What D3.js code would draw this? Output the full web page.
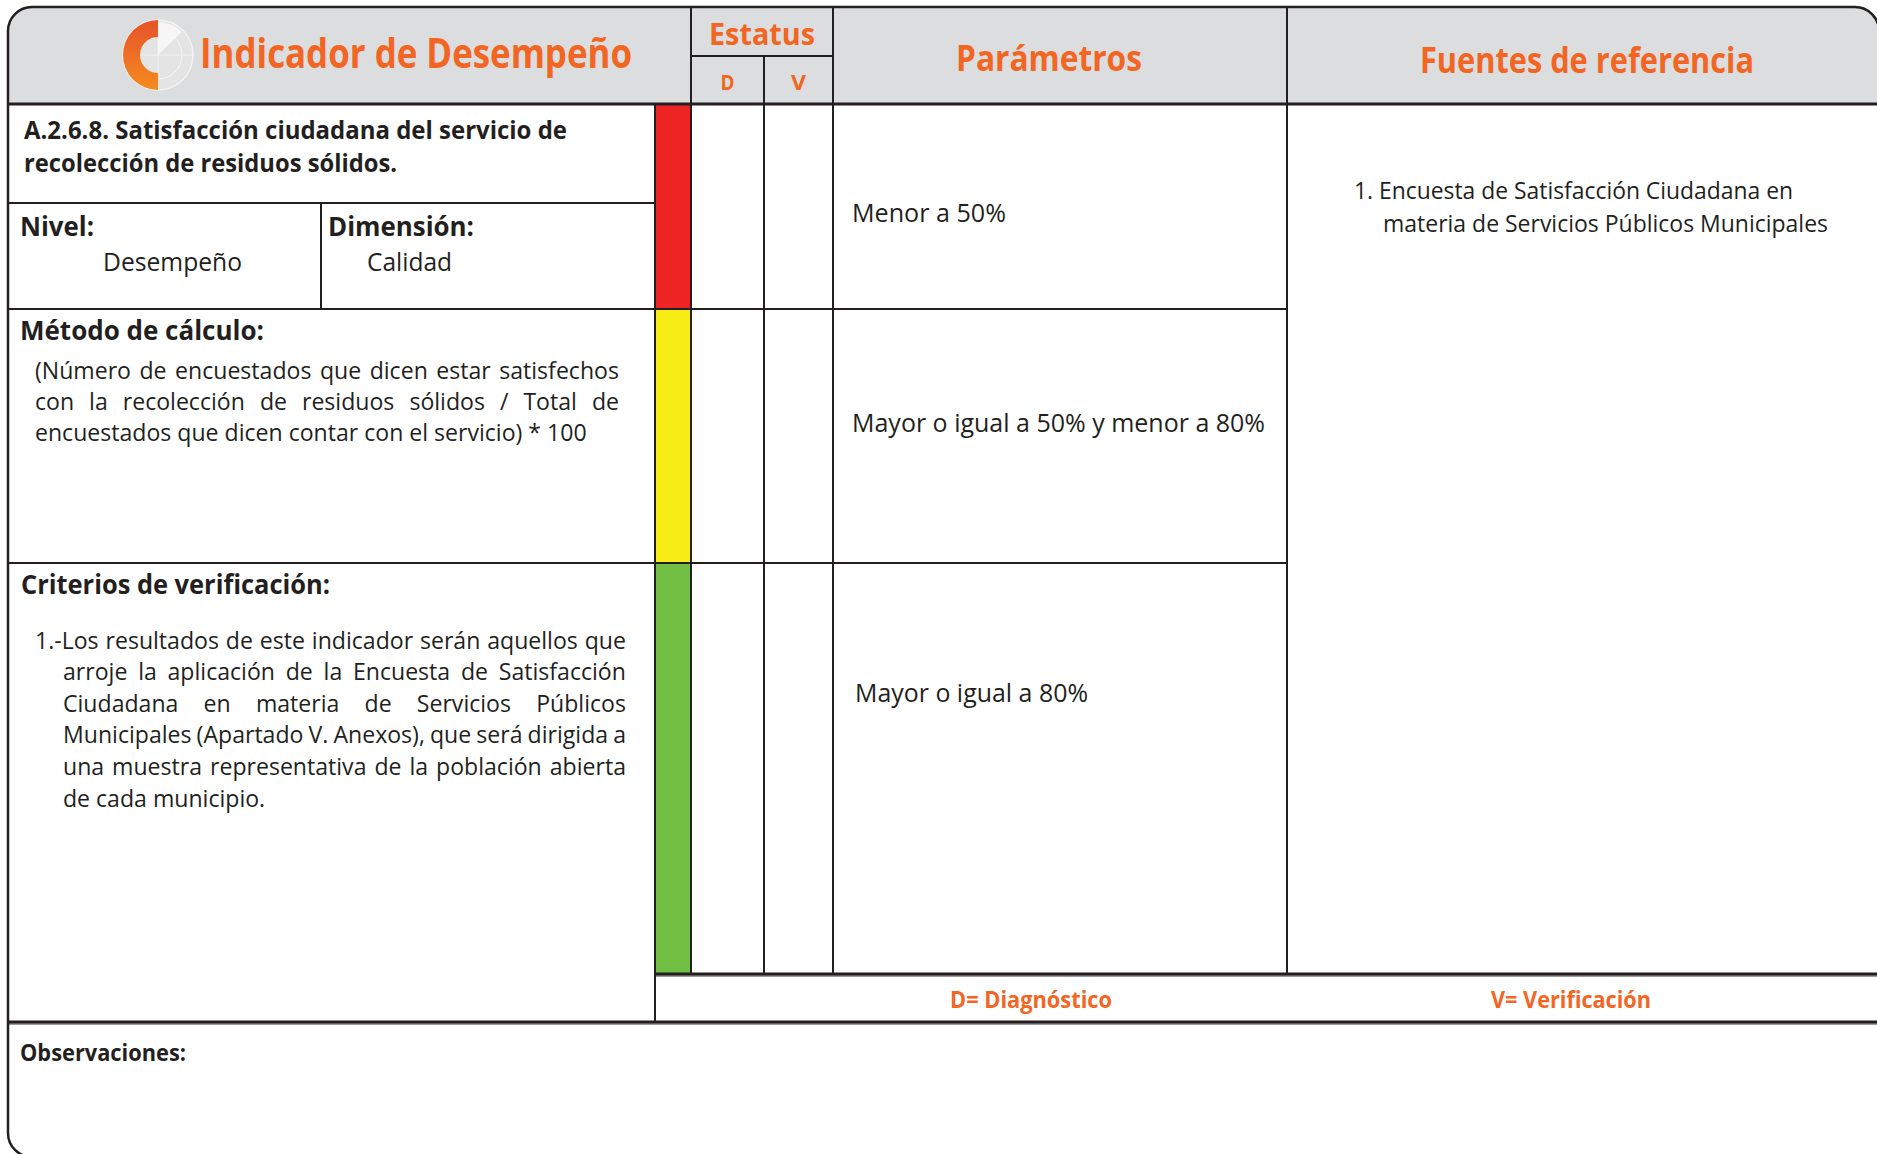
<!DOCTYPE html>
<html><head><meta charset="utf-8">
<script src="https://cdn.jsdelivr.net/npm/d3@7"></script>
<style>html,body{margin:0;padding:0;background:#fff;overflow:hidden;} svg{display:block;}</style>
</head><body><div id="chart"></div>
<script>
// ---------------- DATA ----------------
const headerLabels = ["Indicador de Desempeño", "Estatus", "D", "V", "Parámetros", "Fuentes de referencia"];
const indicatorTitle = ["A.2.6.8. Satisfacción ciudadana del servicio de", "recolección de residuos sólidos."];
const fieldLabels = ["Nivel:", "Dimensión:", "Método de cálculo:", "Criterios de verificación:", "Observaciones:"];
const fieldValues = ["Desempeño", "Calidad"];
const metodoLines = [
  "(Número de encuestados que dicen estar satisfechos",
  "con la recolección de residuos sólidos / Total de",
  "encuestados que dicen contar con el servicio) * 100"
];
const criteriosLines = [
  "1.-Los resultados de este indicador serán aquellos que",
  "arroje la aplicación de la Encuesta de Satisfacción",
  "Ciudadana en materia de Servicios Públicos",
  "Municipales (Apartado V. Anexos), que será dirigida a",
  "una muestra representativa de la población abierta",
  "de cada municipio."
];
const levels = ["rojo", "amarillo", "verde"];
const levelColors = ["#EE2424", "#F7EC14", "#72BF44"];
const parameters = ["Menor a 50%", "Mayor o igual a 50% y menor a 80%", "Mayor o igual a 80%"];
const fuentesLines = ["1. Encuesta de Satisfacción Ciudadana en", "materia de Servicios Públicos Municipales"];
const legendLabels = ["D= Diagnóstico", "V= Verificación"];

// ---------------- LAYOUT ----------------
const W = 1877, H = 1154;
const INK = "#231f20", ORANGE = "#F26522", GREY = "#DCDDDE";
const FONT = "'Open Sans', 'Noto Sans', sans-serif";
const L = 8, T = 7, R = 1879, B = 1157, RAD = 24;
const xStripL = 655, xStripR = 691, xDV = 764, xEstR = 833, xParR = 1287;
const yHead = 104, yEstSplit = 56, yTitle = 203, yLegTop = 974, yLegBot = 1022;
const rowY = d3.scaleOrdinal(levels, [[104, 309], [309, 563], [563, 974]]);
const color = d3.scaleOrdinal(levels, levelColors);

const svg = d3.select("#chart").append("svg").attr("width", W).attr("height", H);
const defs = svg.append("defs");
const outerPath = `M${L},${T + RAD} A${RAD},${RAD} 0 0 1 ${L + RAD},${T} L${R - RAD},${T} A${RAD},${RAD} 0 0 1 ${R},${T + RAD} L${R + 20},${T + RAD} L${R + 20},${B} L${L + RAD},${B} A${RAD},${RAD} 0 0 1 ${L},${B - RAD} Z`;
const borderPath = `M${R},${T + RAD} A${RAD},${RAD} 0 0 0 ${R - RAD},${T} L${L + RAD},${T} A${RAD},${RAD} 0 0 0 ${L},${T + RAD} L${L},${B - RAD} A${RAD},${RAD} 0 0 0 ${L + RAD},${B}`;
defs.append("clipPath").attr("id", "outer").append("path").attr("d", outerPath);
const grad = defs.append("linearGradient").attr("id", "logoGrad").attr("x1", 0).attr("y1", 0).attr("x2", 0).attr("y2", 1);
grad.append("stop").attr("offset", "0%").attr("stop-color", "#E6532A");
grad.append("stop").attr("offset", "100%").attr("stop-color", "#F68B1F");

// background & header
svg.append("path").attr("d", outerPath).attr("fill", "#fff");
svg.append("rect").attr("x", 0).attr("y", 0).attr("width", W + 10).attr("height", yHead)
  .attr("fill", GREY).attr("clip-path", "url(#outer)");

// colour strip
svg.selectAll("rect.level").data(levels).join("rect").attr("class", "level")
  .attr("x", xStripL).attr("width", xStripR - xStripL)
  .attr("y", d => rowY(d)[0]).attr("height", d => rowY(d)[1] - rowY(d)[0])
  .attr("fill", d => color(d));

// grid lines
function hline(y, x1, x2, w = 2, c = INK) {
  svg.append("line").attr("x1", x1).attr("x2", x2).attr("y1", y).attr("y2", y)
    .attr("stroke", c).attr("stroke-width", w);
}
function vline(x, y1, y2, w = 2) {
  svg.append("line").attr("x1", x).attr("x2", x).attr("y1", y1).attr("y2", y2)
    .attr("stroke", INK).attr("stroke-width", w);
}
hline(yLegTop + 2, xStripL, W, 2, "#9a9a9a");
hline(yLegBot + 2, L, W, 2, "#9a9a9a");
hline(yHead, L, W, 3);
hline(yEstSplit, xStripR, xEstR);
hline(yTitle, L, xStripL);
levels.slice(0, 2).forEach(l => hline(rowY(l)[1], L, xParR));
hline(yLegTop, xStripL, W, 3);
hline(yLegBot, L, W, 3);
vline(321, yTitle, rowY("rojo")[1]);
vline(xStripL, yHead, yLegBot);
vline(xStripR, T, yLegTop);
vline(xDV, yEstSplit, yLegTop);
vline(xEstR, T, yLegTop);
vline(xParR, T, yLegTop);
svg.append("path").attr("d", borderPath).attr("fill", "none").attr("stroke", INK).attr("stroke-width", 2.5);

// ---------------- TEXT HELPERS ----------------
function txt(str, x, y, o) {
  const t = svg.append("text").text(str)
    .attr("y", y).attr("font-family", FONT).attr("font-size", o.size)
    .attr("font-weight", o.weight || 400).attr("fill", o.fill || INK);
  let xs = x;
  if (o.w) {
    t.attr("textLength", o.w).attr("lengthAdjust", "spacingAndGlyphs");
    if (o.anchor === "middle") xs = x - o.w / 2;
  } else if (o.anchor) t.attr("text-anchor", o.anchor);
  t.attr("x", xs);
  return t;
}
function naturalWidth(str, size, weight) {
  const t = svg.append("text").text(str).attr("font-family", FONT).attr("font-size", size).attr("font-weight", weight || 400);
  const w = t.node().getComputedTextLength();
  t.remove();
  return w;
}
function justify(str, x, y, w, size, k) {
  const words = str.split(" ");
  const g = svg.append("g");
  const nodes = words.map(wd => g.append("text").text(wd).attr("font-family", FONT)
    .attr("font-size", size).attr("fill", INK));
  const widths = nodes.map(n => n.node().getComputedTextLength() * k);
  const total = d3.sum(widths);
  const gap = words.length > 1 ? (w - total) / (words.length - 1) : 0;
  let cx = x;
  nodes.forEach((n, i) => { n.attr("transform", `translate(${cx},${y}) scale(${k},1)`); cx += widths[i] + gap; });
}
function plain(str, x, y, size, k) {
  svg.append("text").text(str).attr("font-family", FONT).attr("font-size", size).attr("fill", INK)
    .attr("transform", `translate(${x},${y}) scale(${k},1)`);
}

// ---------------- LOGO ----------------
const logo = svg.append("g").attr("transform", "translate(158,55)");
logo.append("circle").attr("r", 35).attr("fill", "#e4e4e5").attr("stroke", "#f2f2f2").attr("stroke-width", 1.5);
logo.append("circle").attr("r", 24).attr("fill", "none").attr("stroke", "#f6f6f6").attr("stroke-width", 1);
logo.append("line").attr("x1", -35).attr("x2", 35).attr("stroke", "#f1f1f1").attr("stroke-width", 1);
logo.append("line").attr("y1", -35).attr("y2", 35).attr("stroke", "#f1f1f1").attr("stroke-width", 1);
logo.append("path").attr("d", d3.arc()({ innerRadius: 0, outerRadius: 33, startAngle: 0, endAngle: 0.8 }))
  .attr("fill", "#f7f7f7").attr("opacity", 0.95);
logo.append("path").attr("d", d3.arc()({ innerRadius: 18, outerRadius: 35, startAngle: Math.PI, endAngle: 2 * Math.PI }))
  .attr("fill", "url(#logoGrad)");

// ---------------- HEADER TEXT ----------------
txt(headerLabels[0], 200, 68, { size: 42, weight: 700, fill: ORANGE, w: 432 });
txt(headerLabels[1], 762, 45, { size: 31, weight: 700, fill: ORANGE, w: 106, anchor: "middle" });
txt(headerLabels[2], 727.5, 90, { size: 22, weight: 700, fill: ORANGE, w: 14, anchor: "middle" });
txt(headerLabels[3], 798.5, 90, { size: 22, weight: 700, fill: ORANGE, w: 15, anchor: "middle" });
txt(headerLabels[4], 1049, 71, { size: 36, weight: 700, fill: ORANGE, w: 186, anchor: "middle" });
txt(headerLabels[5], 1587, 73, { size: 36, weight: 700, fill: ORANGE, w: 334, anchor: "middle" });

// ---------------- LEFT COLUMN ----------------
txt(indicatorTitle[0], 24, 139, { size: 25, weight: 700, w: 543 });
txt(indicatorTitle[1], 24, 172, { size: 25, weight: 700, w: 373 });
txt(fieldLabels[0], 20, 236, { size: 26, weight: 700, w: 74 });
txt(fieldLabels[1], 328, 236, { size: 26, weight: 700, w: 146 });
txt(fieldValues[0], 103, 271, { size: 25, w: 139 });
txt(fieldValues[1], 367, 271, { size: 25, w: 85 });
txt(fieldLabels[2], 20, 340, { size: 26, weight: 700, w: 244 });

const BODY = 23;
const kBody = 552 / naturalWidth(metodoLines[2], BODY);
const metodoY = [379, 410, 441];
justify(metodoLines[0], 35, metodoY[0], 584, BODY, kBody);
justify(metodoLines[1], 35, metodoY[1], 584, BODY, kBody);
plain(metodoLines[2], 35, metodoY[2], BODY, kBody);

txt(fieldLabels[3], 21, 594, { size: 26, weight: 700, w: 309 });
const critY = [649, 680, 712, 743, 775, 807];
justify(criteriosLines[0], 35, critY[0], 591, BODY, kBody);
for (let i = 1; i < 5; i++) justify(criteriosLines[i], 63, critY[i], 563, BODY, kBody);
plain(criteriosLines[5], 63, critY[5], BODY, kBody);

// ---------------- PARAMETERS ----------------
const paramLayout = [{ x: 852, y: 222, w: 154 }, { x: 852, y: 432, w: 413 }, { x: 855, y: 702, w: 233 }];
parameters.forEach((p, i) => txt(p, paramLayout[i].x, paramLayout[i].y, { size: 26, w: paramLayout[i].w }));

// ---------------- FUENTES ----------------
txt(fuentesLines[0], 1354, 199, { size: 23, w: 439 });
txt(fuentesLines[1], 1383, 232, { size: 23, w: 445 });

// ---------------- LEGEND & OBSERVACIONES ----------------
txt(legendLabels[0], 1031, 1008, { size: 24, weight: 700, fill: ORANGE, w: 162, anchor: "middle" });
txt(legendLabels[1], 1571, 1008, { size: 24, weight: 700, fill: ORANGE, w: 160, anchor: "middle" });
txt(fieldLabels[4], 20, 1061, { size: 24, weight: 700, w: 166 });
</script>
</body></html>
